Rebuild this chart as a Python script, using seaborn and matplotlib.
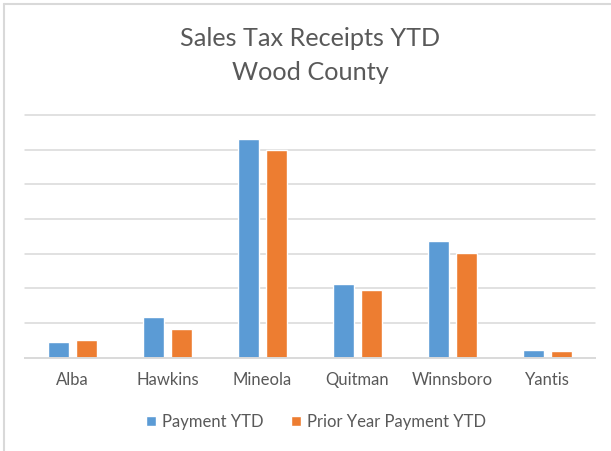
import matplotlib
matplotlib.use("Agg")
import matplotlib.pyplot as plt
from matplotlib.lines import Line2D
import seaborn as sns
import pandas as pd

cities = ["Alba", "Hawkins", "Mineola", "Quitman", "Winnsboro", "Yantis"]
payment_ytd = [88, 234, 1264, 424, 672, 46]
prior_year_ytd = [100, 166, 1198, 392, 604, 40]
series_names = ["Payment YTD", "Prior Year Payment YTD"]
colors = ["#5B9BD5", "#ED7D31"]

df = pd.DataFrame({
    "City": cities * 2,
    "Value": payment_ytd + prior_year_ytd,
    "Series": [series_names[0]] * len(cities) + [series_names[1]] * len(cities),
})

sns.set_style("white")
plt.rcParams["font.family"] = ["Lato", "DejaVu Sans"]

fig = plt.figure(figsize=(6.11, 4.51), dpi=100)
ax = fig.add_axes([25 / 611, 1 - 357.7 / 451, 570 / 611, (357.7 - 115) / 451])

sns.barplot(data=df, x="City", y="Value", hue="Series", palette=colors,
            width=0.58, gap=0.22, ax=ax, saturation=1, legend=True)

ax.set_ylim(0, 1400)
ax.set_xlim(-0.5, len(cities) - 0.5)
for y in range(200, 1401, 200):
    ax.axhline(y, color="#d9d9d9", lw=1.1, zorder=0, clip_on=False)
ax.set_yticks([])
ax.set_ylabel("")
ax.set_xlabel("")
for s in ["top", "right", "left"]:
    ax.spines[s].set_visible(False)
ax.spines["bottom"].set_color("#d9d9d9")
ax.spines["bottom"].set_linewidth(1.4)
ax.tick_params(axis="x", length=0, pad=10, labelsize=12, labelcolor="#595959")

fig.text(310 / 611, 1 - 39 / 451, "Sales Tax Receipts YTD", ha="center", va="center",
         fontsize=18.2, color="#595959")
fig.text(310 / 611, 1 - 73 / 451, "Wood County", ha="center", va="center",
         fontsize=18.2, color="#595959")

handles, labels = ax.get_legend_handles_labels()
ax.legend(handles, labels, loc="center", bbox_to_anchor=(316 / 611, 1 - 422 / 451),
          bbox_transform=fig.transFigure, ncol=2, frameon=False, fontsize=12,
          labelcolor="#595959", handlelength=0.6, handleheight=0.6,
          handletextpad=0.35, columnspacing=1.7)

fig.add_artist(Line2D([4 / 611, 4 / 611], [0, 1 - 4 / 451], color="#d9d9d9", lw=1.5,
                      transform=fig.transFigure))
fig.add_artist(Line2D([4 / 611, 1], [1 - 4 / 451, 1 - 4 / 451], color="#d9d9d9", lw=1.5,
                      transform=fig.transFigure))

fig.savefig("out.png", dpi=100)
